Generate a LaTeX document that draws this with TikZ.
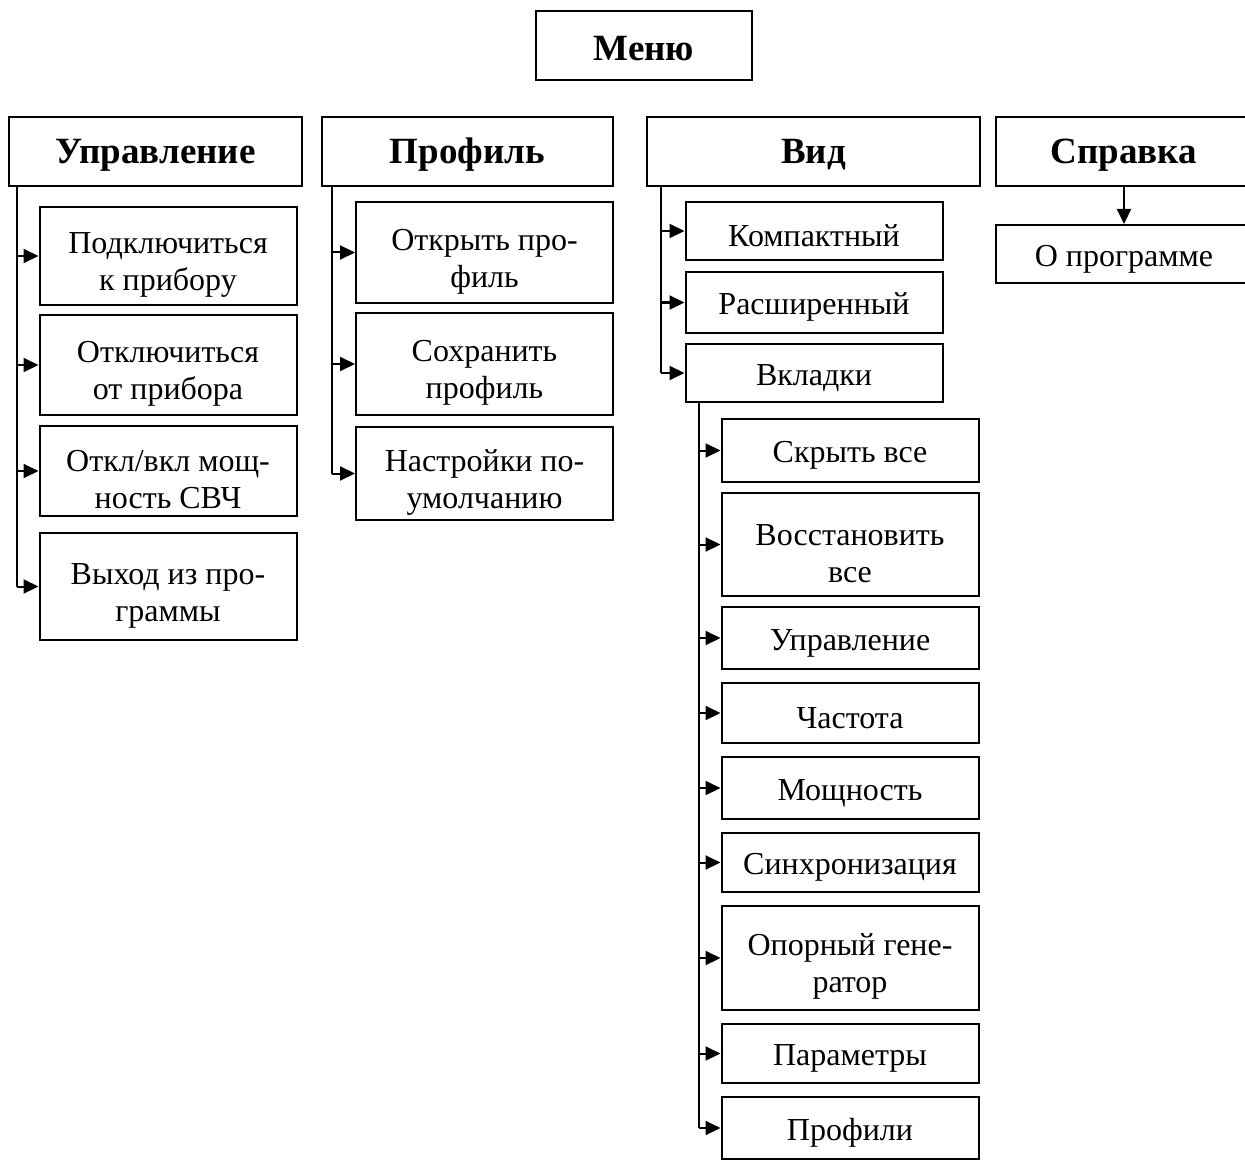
\documentclass[tikz,border=0pt]{standalone}
\usepackage{fontspec}
\setmainfont{Liberation Serif}
\usetikzlibrary{arrows.meta}

\begin{document}
\begin{tikzpicture}[x=0.5pt,y=-0.5pt,
	every node/.style={font=\fontsize{16}{18.5}\selectfont},
	box/.style={draw,line width=1pt,align=center,inner sep=2pt,
		execute at begin node={\rule{0pt}{15.5pt}}},
	head/.style={box,minimum height=34.5pt,font=\fontsize{18.5}{22}\selectfont\bfseries},
	item/.style={box,minimum width=128.5pt,minimum height=30pt},
	tall/.style={item,minimum height=50pt,text height=38pt},
	arr/.style={-{Triangle[length=7.5pt,width=7pt]},line width=1pt},
	link/.style={line width=1pt}]
	\useasboundingbox (0,0) rectangle (1245,1160);
	% top level
	\node[head,minimum width=108pt] (menu) at (644,45.5) {Меню};
	\node[head,minimum width=146.5pt] (upr) at (155.5,151.5) {Управление};
	\node[head,minimum width=145.5pt] (prof) at (467.5,151.5) {Профиль};
	\node[head,minimum width=166.5pt] (vid) at (813.5,151.5) {Вид};
	\node[head,minimum width=128pt] (help) at (1124,151.5) {Справка};
	% Управление
	\node[tall,minimum height=49pt] (u1) at (168,256) {Подключиться\\к прибору};
	\node[tall] (u2) at (168,365) {Отключиться\\от прибора};
	\node[tall,minimum height=45pt] (u3) at (168,471) {Откл/вкл мощ-\\ность СВЧ};
	\node[tall,minimum height=53.5pt] (u4) at (168,586.5) {Выход из про-\\граммы};
	% Профиль
	\node[tall,minimum height=50.5pt] (p1) at (484.5,252.5) {Открыть про-\\филь};
	\node[tall,minimum height=51pt] (p2) at (484.5,364) {Сохранить\\профиль};
	\node[tall,minimum height=46.5pt] (p3) at (484.5,473.5) {Настройки по-\\умолчанию};
	% Вид
	\node[item,minimum height=29pt] (v1) at (814,231) {Компактный};
	\node[item] (v2) at (814,302.5) {Расширенный};
	\node[item,minimum height=29pt] (v3) at (814,373) {Вкладки};
	% Вкладки
	\node[item,minimum height=31.5pt] (t1) at (850,450.5) {Скрыть все};
	\node[tall,minimum height=51.5pt] (t2) at (850,544.5) {Восстановить\\все};
	\node[item,minimum height=31pt] (t3) at (850,638) {Управление};
	\node[item] (t4) at (850,713) {Частота};
	\node[item,minimum height=31pt] (t5) at (850,788) {Мощность};
	\node[item,minimum height=29.5pt] (t6) at (850,862.5) {Синхронизация};
	\node[tall,minimum height=52pt] (t7) at (850,958) {Опорный гене-\\ратор};
	\node[item,minimum height=29.5pt] (t8) at (850,1053.5) {Параметры};
	\node[item,minimum height=31pt] (t9) at (850,1128) {Профили};
	% Справка
	\node[item,minimum width=128pt,minimum height=29pt] (about) at (1124,254) {О программе};

	\coordinate (uprT) at ([xshift=4.5pt]upr.south west);
	\coordinate (profT) at ([xshift=5.5pt]prof.south west);
	\coordinate (vidT) at ([xshift=7.5pt]vid.south west);
	\coordinate (tabT) at ([xshift=7pt]v3.south west);

	\draw[link] (uprT) -- (uprT |- u4.west);
	\foreach \n in {u1,u2,u3,u4}
		\draw[arr] (uprT |- \n.west) -- (\n.west);
	\draw[link] (profT) -- (profT |- p3.west);
	\foreach \n in {p1,p2,p3}
		\draw[arr] (profT |- \n.west) -- (\n.west);
	\draw[link] (vidT) -- (vidT |- v3.west);
	\foreach \n in {v1,v2,v3}
		\draw[arr] (vidT |- \n.west) -- (\n.west);
	\draw[link] (tabT) -- (tabT |- t9.west);
	\foreach \n in {t1,t2,t3,t4,t5,t6,t7,t8,t9}
		\draw[arr] (tabT |- \n.west) -- (\n.west);
	\draw[arr] (help) -- (about);
\end{tikzpicture}
\end{document}
